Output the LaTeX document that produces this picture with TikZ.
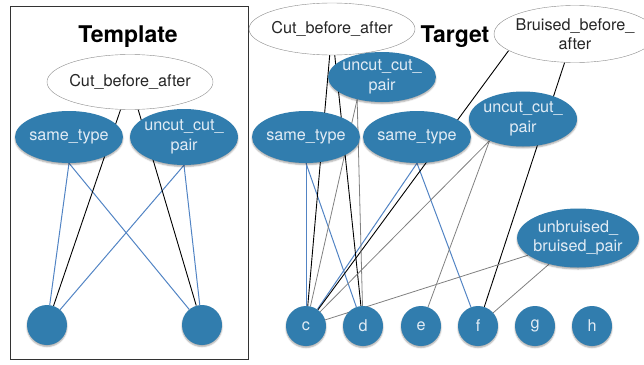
\documentclass[tikz,border=0pt]{standalone}
\usepackage{fontspec}
\setmainfont{TeX Gyre Heros}
\usetikzlibrary{positioning, backgrounds, shapes, shadows.blur}
\definecolor{nodeblue}{RGB}{49,125,174}
\definecolor{lbltext}{RGB}{226,236,245}
\definecolor{lineblue}{RGB}{82,132,196}
\definecolor{linegray}{RGB}{128,128,128}
\definecolor{ellgray}{RGB}{140,140,140}
\newcommand{\lbl}{\fontsize{16.2}{19.5}\selectfont}
\tikzset{
    attr/.style={ellipse, draw=ellgray, fill=white, inner sep=0pt, inner xsep=-2pt, minimum height=55pt, font=\lbl, align=center, text=black!85},
    rel/.style={ellipse, fill=nodeblue, inner sep=0pt, inner xsep=-1.5pt, minimum height=52pt, font=\lbl, align=center, text=lbltext,
        blur shadow={shadow xshift=0pt, shadow yshift=-1.5pt, shadow blur radius=1.5pt, shadow opacity=35}},
    obj/.style={circle, fill=nodeblue, inner sep=0pt, minimum size=40pt, font=\lbl, text=lbltext,
        blur shadow={shadow xshift=0pt, shadow yshift=-1.5pt, shadow blur radius=1.5pt, shadow opacity=35}},
    heading/.style={font=\fontsize{23}{27}\selectfont\bfseries},
    bl/.style={color=lineblue, line width=1pt},
    bk/.style={color=black, line width=0.9pt},
    gr/.style={color=linegray, line width=0.8pt},
}
\begin{document}
\begin{tikzpicture}[x=1pt,y=-1pt]
    \useasboundingbox (0,0) rectangle (644,364);
    % Template
    \node[heading] (Ttitle) at (128,37) {Template};
    \node[attr, minimum width=162pt] (Tcut) at (130,82) {Cut\_before\_after};
    \node[rel, minimum width=108pt] (Tsame) at (69,137) {same\_type};
    \node[rel, minimum width=107pt, minimum height=56pt] (Tuncut) at (184,137) {uncut\_cut\_\\pair};
    \node[obj] (Tl) at (47,325) {};
    \node[obj] (Tr) at (202,325) {};
    % Target
    \node[heading] (Gtitle) at (455,37) {Target};
    \node[attr, minimum width=161pt, minimum height=52pt] (cut) at (332,29) {Cut\_before\_after};
    \node[attr, minimum width=160pt, minimum height=57pt] (bruised) at (575,34) {Bruised\_before\_\\after};
    \node[rel, minimum width=107pt, minimum height=50pt] (uncutA) at (382,77) {uncut\_cut\_\\pair};
    \node[rel, minimum width=108pt] (sameA) at (306,137) {same\_type};
    \node[rel, minimum width=108pt] (sameB) at (417,137) {same\_type};
    \node[rel, minimum width=108pt, minimum height=55pt] (uncutB) at (523,119) {uncut\_cut\_\\pair};
    \node[rel, minimum width=109pt, minimum height=59pt] (unbr) at (578,238) {unbruised\_\\bruised\_pair};
    \node[obj] (c) at (306,326) {c};
    \node[obj] (d) at (363,326) {d};
    \node[obj] (e) at (421,326) {e};
    \node[obj] (f) at (478,326) {f};
    \node[obj] (g) at (535,326) {g};
    \node[obj] (h) at (592,326) {h};
    \begin{scope}[on background layer]
        \draw[color=black!80, line width=0.8pt] (10,6) rectangle (248,359);
        \path[bl]
            (Tsame.south)   edge (Tl)
                            edge (Tr)
            (Tuncut.south)  edge (Tl)
                            edge (Tr)
            (sameA.south)   edge (c)
                            edge (d)
            (sameB.south)   edge (c)
                            edge (f)
        ;
        \path[bk]
            (Tcut)          edge (Tl)
                            edge (Tr)
            (cut)           edge (c)
                            edge (d)
            (bruised.194)   edge (c)
            (bruised.250)   edge (f)
        ;
        \path[gr]
            (uncutA.222)    edge (c)
                            edge (d)
            (uncutB.213)    edge (c)
                            edge (e)
            (unbr.199)      edge (c)
            (unbr.222)      edge (f)
        ;
    \end{scope}
\end{tikzpicture}
\end{document}
